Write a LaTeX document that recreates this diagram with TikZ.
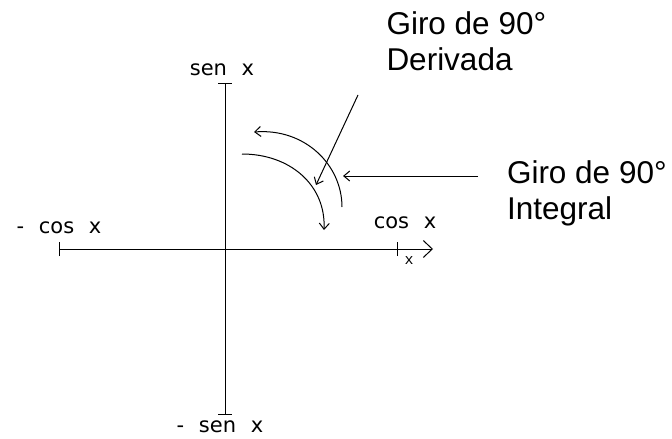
\documentclass[tikz,border=0pt]{standalone}
\usepackage{fontspec}
\setmainfont{Liberation Sans}
\newfontfamily\pixfont[WordSpace=2.2]{DejaVu Sans}
\newfontfamily\smallfont{Liberation Mono}
\usetikzlibrary{arrows.meta}

\begin{document}
\begin{tikzpicture}[x=1pt, y=-1pt,
    line width=1pt,
    lbl/.style={inner sep=0pt, font=\pixfont\fontsize{21}{26}\selectfont},
    note/.style={inner sep=0pt, anchor=north west, align=left, font=\fontsize{31.5}{36}\selectfont},
    tip/.style={-{Straight Barb[length=6pt, width=10pt]}},
    axisarr/.style={-{Straight Barb[length=9pt, width=17pt]}}]
  \useasboundingbox (0,0) rectangle (672,439);
  % axes
  \coordinate (xl) at (59,249);
  \coordinate (xr) at (433,249);
  \coordinate (xt) at (397,249);
  \coordinate (yt) at (225,83);
  \coordinate (yb) at (225,414);
  \draw[axisarr] (xl) -- (xr);
  \draw (yt) -- (yb);
  \draw ([yshift=-7pt]xl) -- ([yshift=7pt]xl);
  \draw ([yshift=-7pt]xt) -- ([yshift=7pt]xt);
  \draw ([xshift=-7pt]yt) -- ([xshift=7pt]yt);
  \draw ([xshift=-7pt]yb) -- ([xshift=7pt]yb);
  % axis labels
  \node[lbl] (sen) at (222,70) {sen x};
  \node[lbl] (msen) at (220,427) {- sen x};
  \node[lbl] (mcos) at (59,228) {- cos x};
  \node[lbl] (cos) at (405,223) {cos x};
  \node[inner sep=0pt, font=\smallfont\fontsize{15}{15}\selectfont] (xv) at (409,261) {x};
  % rotations
  \coordinate (ia) at (342,207);
  \coordinate (ib) at (254,132);
  \coordinate (da) at (242,154);
  \coordinate (db) at (324,230);
  \draw[tip] (ia) .. controls (342,165) and (305,128) .. (ib);
  \draw[tip] (da) .. controls (290,154) and (326,185) .. (db);
  % notes
  \node[note] (der) at (386,11) {Giro de 90°\\Derivada};
  \node[note] (int) at (506.5,160) {Giro de 90°\\Integral};
  \coordinate (dp) at (358,95);
  \coordinate (dq) at (316,185);
  \coordinate (ip) at (478,176);
  \coordinate (iq) at (343,176);
  \draw[tip] (dp) -- (dq);
  \draw[tip] (ip) -- (iq);
\end{tikzpicture}
\end{document}
